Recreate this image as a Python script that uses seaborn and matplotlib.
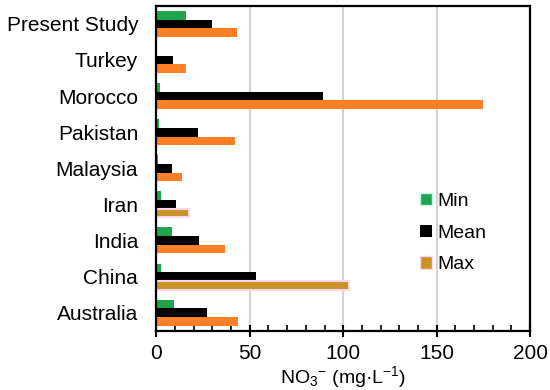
import matplotlib
matplotlib.use("Agg")
import matplotlib.pyplot as plt
import seaborn as sns
import pandas as pd
from matplotlib.ticker import MultipleLocator
from matplotlib.patches import Patch

countries = ["Present Study", "Turkey", "Morocco", "Pakistan", "Malaysia",
             "Iran", "India", "China", "Australia"]
min_vals = [16, 0, 2, 1.5, 1, 2.7, 8.4, 2.7, 9.6]
mean_vals = [30, 9, 89, 22.5, 8.4, 10.7, 23, 53.5, 27]
max_vals = [43, 16, 175, 42, 14, 17.6, 36.7, 103, 44]
series = ["Min", "Mean", "Max"]

rows = []
for c, a, b, d in zip(countries, min_vals, mean_vals, max_vals):
    rows += [(c, "Min", a), (c, "Mean", b), (c, "Max", d)]
df = pd.DataFrame(rows, columns=["country", "stat", "value"])

sns.set_theme(style="white")
plt.rcParams["font.family"] = ["Liberation Sans", "DejaVu Sans"]
plt.rcParams["mathtext.fontset"] = "custom"
plt.rcParams["mathtext.rm"] = "Liberation Sans"
plt.rcParams["mathtext.it"] = "Liberation Sans:italic"
for k in ["text.color", "axes.labelcolor", "xtick.color", "ytick.color"]:
    plt.rcParams[k] = "black"

green = "#1fa34c"
black = "#000000"
orange = "#ff7f27"
gold = "#c99326"
palette = {"Min": green, "Mean": black, "Max": orange}

fig = plt.figure(figsize=(5.5, 3.9), dpi=100)
ax = fig.add_axes([0.284, 0.152, 0.680, 0.833])

sns.barplot(data=df, x="value", y="country", hue="stat", order=countries,
            hue_order=series, palette=palette, orient="h", width=0.72,
            ax=ax, legend=False, saturation=1, linewidth=0)

# special colouring of some Max bars as in the reference
for idx in [countries.index("Iran"), countries.index("China")]:
    p = ax.containers[2].patches[idx]
    p.set_facecolor(gold)
    p.set_edgecolor("#fbd6f3")
    p.set_linewidth(1.5)

ax.set_xlim(0, 200)
ax.set_ylim(len(countries) - 0.5, -0.5)
ax.xaxis.set_major_locator(MultipleLocator(50))
ax.xaxis.set_minor_locator(MultipleLocator(10))
ax.grid(axis="x", which="major", color="#d4d4d4", linewidth=1.5)
ax.set_axisbelow(True)
ax.tick_params(axis="x", which="major", direction="inout", length=9, width=1.5,
               labelsize=15, color="black", pad=5, bottom=True)
ax.tick_params(axis="x", which="minor", direction="in", length=4, width=1.2,
               color="black", bottom=True)
ax.tick_params(axis="y", length=0, labelsize=15, pad=13)
for s in ax.spines.values():
    s.set_color("black")
    s.set_linewidth(1.6)
ax.set_ylabel("")
ax.set_xlabel(r"NO$_3$$^{-}$ (mg·L$^{-1}$)", fontsize=14, labelpad=0.5)

handles = [Patch(facecolor=green, edgecolor="#bff7ef", linewidth=1.0),
           Patch(facecolor=black, edgecolor="none"),
           Patch(facecolor=gold, edgecolor="#fbd6f3", linewidth=1.0)]
ax.legend(handles, series, loc="center left", bbox_to_anchor=(0.685, 0.30),
          frameon=False, fontsize=14, handlelength=0.6, handleheight=0.6,
          handletextpad=0.3, labelspacing=0.75, borderaxespad=0)

fig.savefig("out.png", dpi=100)
